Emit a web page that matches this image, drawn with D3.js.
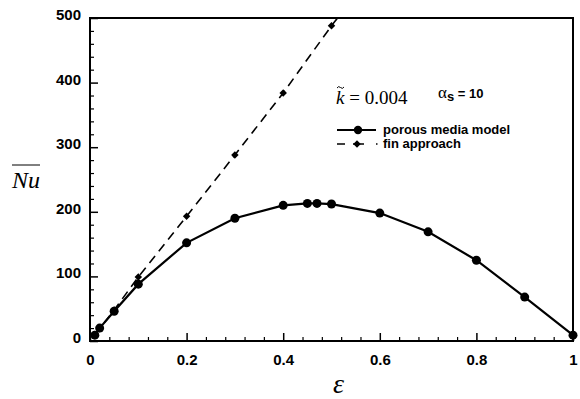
<!DOCTYPE html>
<html>
<head>
<meta charset="utf-8">
<script src="https://cdn.jsdelivr.net/npm/d3@7"></script>
<style>
  body { margin: 0; background: #fff; }
  .tick-label { font-family: "Liberation Sans", Arial, sans-serif; font-weight: bold; font-size: 15px; }
  .legend { font-family: "Liberation Sans", Arial, sans-serif; font-weight: bold; font-size: 13px; }
  .serif { font-family: "Liberation Serif", "Times New Roman", serif; }
</style>
</head>
<body>
<div id="chart"></div>
<script>
const width = 580;
const height = 399;
const margin = { top: 18, right: 7, bottom: 58, left: 90 };
const w = width - margin.left - margin.right;
const h = height - margin.top - margin.bottom;

// porous media model
const epsPorous = [0.01, 0.02, 0.05, 0.1, 0.2, 0.3, 0.4, 0.45, 0.47, 0.5, 0.6, 0.7, 0.8, 0.9, 1.0];
const nuPorous = [9, 20, 46, 88, 152, 190, 210, 213, 213, 212, 198, 169, 125, 68, 9];
// fin approach (last point runs off the top)
const epsFin = [0.01, 0.02, 0.05, 0.1, 0.2, 0.3, 0.4, 0.5, 0.55];
const nuFin = [10, 19, 48, 99, 193, 288, 384, 488, 536];

const xTicks = [0, 0.2, 0.4, 0.6, 0.8, 1];
const yTicks = [0, 100, 200, 300, 400, 500];

const svg = d3.select("#chart")
  .append("svg")
  .attr("width", width)
  .attr("height", height);

const g = svg.append("g")
  .attr("transform", "translate(" + margin.left + "," + margin.top + ")");

const x = d3.scaleLinear().domain([0, 1]).range([0, w]);
const y = d3.scaleLinear().domain([0, 500]).range([h, 0]);

// minor ticks (inward)
const xMinor = d3.range(0, 1.0001, 0.04).filter((d) => Math.abs(d / 0.2 - Math.round(d / 0.2)) > 1e-6);
const yMinor = d3.range(0, 501, 20).filter((d) => d % 100 !== 0);

g.append("g")
  .attr("transform", "translate(0," + h + ")")
  .call(d3.axisBottom(x).tickValues(xMinor).tickSize(-4).tickFormat(""))
  .call((s) => s.select(".domain").remove())
  .selectAll("line").attr("stroke-width", 1.2);
g.append("g")
  .call(d3.axisLeft(y).tickValues(yMinor).tickSize(-4).tickFormat(""))
  .call((s) => s.select(".domain").remove())
  .selectAll("line").attr("stroke-width", 1.2);

// major ticks + labels
const xAxis = g.append("g")
  .attr("transform", "translate(0," + h + ")")
  .call(d3.axisBottom(x).tickValues(xTicks).tickSize(-8).tickPadding(13)
    .tickFormat((d) => (d === 0 || d === 1 ? d3.format("d")(d) : d3.format(".1f")(d))));
xAxis.select(".domain").remove();
xAxis.selectAll("line").attr("stroke-width", 1.5);
xAxis.selectAll("text").attr("class", "tick-label").attr("fill", "#000");

const yAxis = g.append("g")
  .call(d3.axisLeft(y).tickValues(yTicks).tickSize(-8).tickPadding(9));
yAxis.select(".domain").remove();
yAxis.selectAll("line").attr("stroke-width", 1.5);
yAxis.selectAll("text").attr("class", "tick-label").attr("fill", "#000").attr("dy", "0.1em");

// frame
g.append("rect")
  .attr("x", 0).attr("y", 0)
  .attr("width", w).attr("height", h)
  .attr("fill", "none").attr("stroke", "#000").attr("stroke-width", 2);

g.append("clipPath").attr("id", "clip")
  .append("rect").attr("x", -6).attr("y", 0).attr("width", w + 12).attr("height", h + 6);

const plot = g.append("g").attr("clip-path", "url(#clip)");

const finData = epsFin.map((e, i) => [e, nuFin[i]]);
const porousData = epsPorous.map((e, i) => [e, nuPorous[i]]);

const line = d3.line().x((d) => x(d[0])).y((d) => y(d[1]));

plot.append("path")
  .datum(finData)
  .attr("d", line)
  .attr("fill", "none")
  .attr("stroke", "#000")
  .attr("stroke-width", 1.6)
  .attr("stroke-dasharray", "9,6");

// square turned 45 degrees = even diamond
const diamond = d3.symbol().type(d3.symbolSquare).size(28);
plot.selectAll(".fin").data(finData).enter()
  .append("path")
  .attr("class", "fin")
  .attr("transform", (d) => "translate(" + x(d[0]) + "," + y(d[1]) + ") rotate(45)")
  .attr("d", diamond)
  .attr("fill", "#000");

plot.append("path")
  .datum(porousData)
  .attr("d", line)
  .attr("fill", "none")
  .attr("stroke", "#000")
  .attr("stroke-width", 2.2);

plot.selectAll(".por").data(porousData).enter()
  .append("circle")
  .attr("class", "por")
  .attr("cx", (d) => x(d[0]))
  .attr("cy", (d) => y(d[1]))
  .attr("r", 4.5)
  .attr("fill", "#000");

// axis titles
const yl = svg.append("g").attr("class", "serif");
yl.append("text")
  .attr("x", 12).attr("y", 188)
  .attr("font-size", 24).attr("font-style", "italic")
  .text("Nu");
yl.append("line")
  .attr("x1", 12).attr("x2", 40).attr("y1", 165).attr("y2", 165)
  .attr("stroke", "#000").attr("stroke-width", 1);

svg.append("text")
  .attr("class", "serif")
  .attr("x", x(0.5) + margin.left + 7).attr("y", 393)
  .attr("text-anchor", "middle")
  .attr("font-size", 28).attr("font-style", "italic")
  .text("ε");

// annotation
const ann = svg.append("text").attr("class", "serif").attr("x", 336).attr("y", 104).attr("font-size", 19);
ann.append("tspan").attr("font-style", "italic").text("k");
ann.append("tspan").text(" = 0.004");
// tilde over k
svg.append("path")
  .attr("d", "M337,88 q1.5,-2.5 3.5,-0.5 t3.5,-0.5")
  .attr("fill", "none").attr("stroke", "#000").attr("stroke-width", 1);

const al = svg.append("text").attr("x", 438).attr("y", 98);
al.append("tspan").attr("class", "serif").attr("font-size", 17).text("α");
al.append("tspan").attr("class", "legend").attr("font-size", 12).attr("dy", 3).text("s");
al.append("tspan").attr("class", "legend").attr("font-size", 15).attr("dy", -3).text(" = 10");

// legend
svg.append("line")
  .attr("x1", 337).attr("x2", 376).attr("y1", 130).attr("y2", 130)
  .attr("stroke", "#000").attr("stroke-width", 2);
svg.append("circle").attr("cx", 358).attr("cy", 130).attr("r", 4.2).attr("fill", "#000");
svg.append("text").attr("class", "legend").attr("x", 383).attr("y", 134).text("porous media model");

svg.append("line")
  .attr("x1", 337).attr("x2", 378).attr("y1", 144).attr("y2", 144)
  .attr("stroke", "#000").attr("stroke-width", 1.6)
  .attr("stroke-dasharray", "8,8,11,12,1.5");
svg.append("path")
  .attr("transform", "translate(357,144) rotate(45)")
  .attr("d", diamond)
  .attr("fill", "#000");
svg.append("text").attr("class", "legend").attr("x", 383).attr("y", 148).text("fin approach");
</script>
</body>
</html>
